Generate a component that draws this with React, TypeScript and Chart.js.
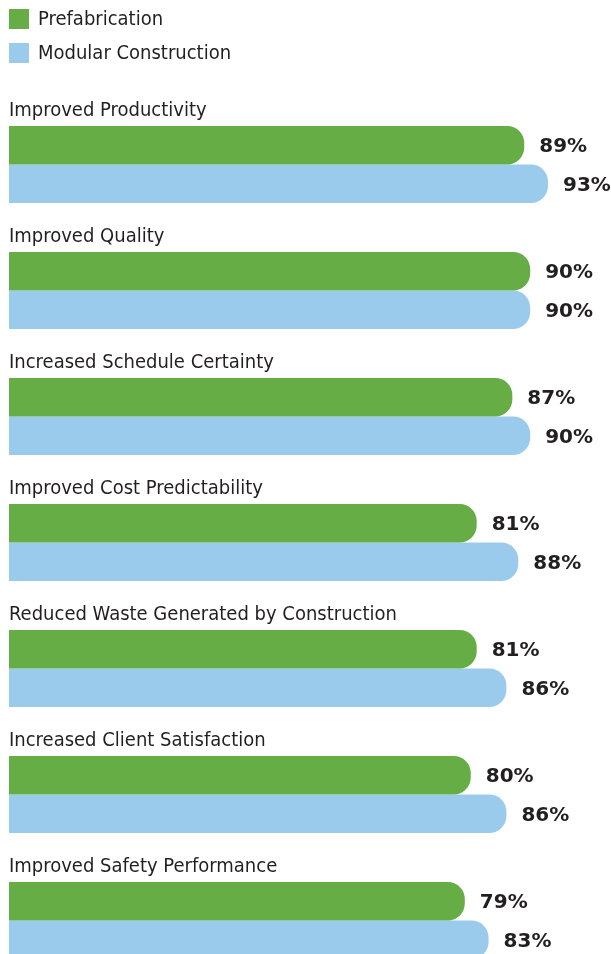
import React, { useEffect, useRef } from "react";
import { Chart, registerables } from "chart.js";

Chart.register(...registerables);

const categories = [
  "Improved Productivity",
  "Improved Quality",
  "Increased Schedule Certainty",
  "Improved Cost Predictability",
  "Reduced Waste Generated by Construction",
  "Increased Client Satisfaction",
  "Improved Safety Performance",
];
const seriesNames = ["Prefabrication", "Modular Construction"];
const prefabricationValues = [89, 90, 87, 81, 81, 80, 79];
const modularValues = [93, 90, 90, 88, 86, 86, 83];

const GREEN = "#66AD45";
const BLUE = "#9BCBEC";
const TEXT = "#231F20";
const LABEL_FONT = '20px "DejaVu Sans Condensed", "DejaVu Sans", sans-serif';
const LEGEND_FONT = '20px "DejaVu Sans Condensed", "DejaVu Sans", sans-serif';
const VALUE_FONT = 'bold 20px "DejaVu Sans", sans-serif';

const overlayPlugin = {
  id: "overlay",
  afterDraw(chart: any) {
    const ctx = chart.ctx;
    const area = chart.chartArea;
    ctx.save();
    // legend
    ctx.font = LEGEND_FONT;
    ctx.textBaseline = "middle";
    ctx.textAlign = "left";
    chart.data.datasets.forEach((ds: any, i: number) => {
      const y = 9 + i * 34;
      ctx.fillStyle = ds.backgroundColor;
      ctx.fillRect(area.left, y, 20, 20);
      ctx.fillStyle = TEXT;
      ctx.fillText(ds.label, area.left + 29, y + 11);
    });
    // category labels
    const meta0 = chart.getDatasetMeta(0);
    ctx.font = LABEL_FONT;
    ctx.textBaseline = "alphabetic";
    chart.data.labels.forEach((lab: string, i: number) => {
      const bar = meta0.data[i];
      if (!bar) return;
      const top = bar.y - bar.height / 2;
      ctx.fillText(lab, area.left, top - 10);
    });
    // value labels
    ctx.font = VALUE_FONT;
    ctx.textBaseline = "middle";
    chart.data.datasets.forEach((ds: any, di: number) => {
      const meta = chart.getDatasetMeta(di);
      meta.data.forEach((bar: any, i: number) => {
        ctx.fillText(ds.data[i] + "%", bar.x + 15, bar.y + 2);
      });
    });
    ctx.restore();
  },
};

export default function App() {
  const ref = useRef<HTMLCanvasElement>(null);
  useEffect(() => {
    document.body.style.margin = "0";
    const chart = new Chart(ref.current!, {
      type: "bar",
      data: {
        labels: categories,
        datasets: [
          {
            label: seriesNames[0],
            data: prefabricationValues,
            backgroundColor: GREEN,
            borderRadius: { topLeft: 0, bottomLeft: 0, topRight: 17, bottomRight: 17 },
            borderSkipped: false,
          },
          {
            label: seriesNames[1],
            data: modularValues,
            backgroundColor: BLUE,
            borderRadius: { topLeft: 0, bottomLeft: 0, topRight: 17, bottomRight: 17 },
            borderSkipped: false,
          },
        ],
      },
      options: {
        indexAxis: "y",
        animation: false,
        responsive: false,
        layout: { padding: { top: 101.5, bottom: 0.5, left: 9, right: 0 } },
        datasets: { bar: { categoryPercentage: 0.611, barPercentage: 1 } },
        scales: {
          x: { display: false, min: 2.3, max: 103.6, grid: { display: false } },
          y: { display: false, grid: { display: false } },
        },
        plugins: {
          legend: { display: false },
          tooltip: { enabled: false },
        },
      },
      plugins: [overlayPlugin],
    });
    return () => chart.destroy();
  }, []);
  return (
    <div style={{ width: 611, height: 954, overflow: "hidden" }}>
      <canvas ref={ref} width={611} height={984} style={{ display: "block" }} />
    </div>
  );
}
